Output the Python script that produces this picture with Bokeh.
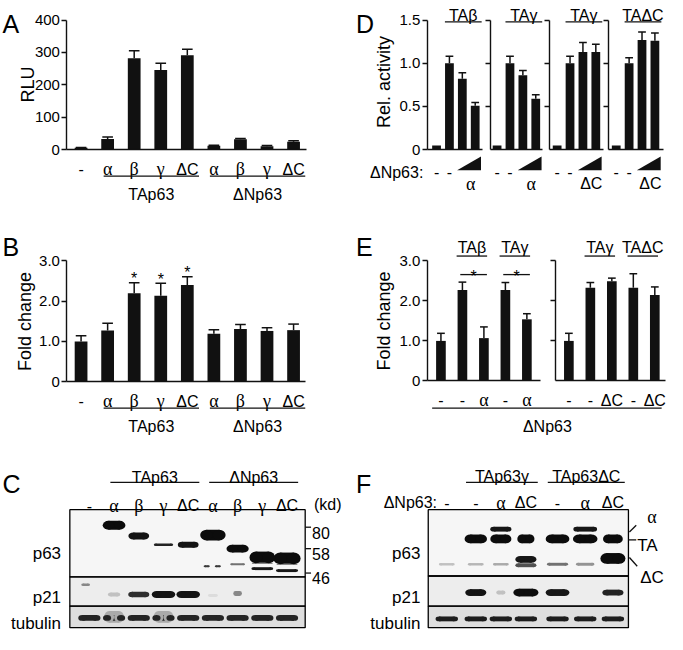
import math
from bokeh.plotting import figure
from bokeh.models import Range1d, LinearAxis, FixedTicker, CustomJSTickFormatter
from bokeh.core.properties import value
from bokeh.embed import file_html
from bokeh.resources import INLINE

# ======================= chart data =======================
# Panel A : reporter activity (RLU)
a_categories = ["-", "α", "β", "γ", "ΔC", "α", "β", "γ", "ΔC"]
a_rlu = [6, 33, 282, 246, 291, 12, 32, 11, 25]
a_rlu_err = [7, 39, 305, 267, 310, 14, 35, 13, 28]
a_ticks = [0, 100, 200, 300, 400]
ab_groups = ["TAp63", "ΔNp63"]
ab_group_members = [[1, 2, 3, 4], [5, 6, 7, 8]]

# Panel B : fold change
b_categories = ["-", "α", "β", "γ", "ΔC", "α", "β", "γ", "ΔC"]
b_fold = [1.0, 1.27, 2.19, 2.13, 2.40, 1.19, 1.31, 1.26, 1.28]
b_fold_err = [1.14, 1.45, 2.45, 2.44, 2.60, 1.29, 1.42, 1.34, 1.43]
b_significant = [2, 3, 4]
b_ticks = [0, 1.0, 2.0, 3.0]

# Panel D : relative activity, four sub-panels
d_titles = ["TAβ", "TAγ", "TAγ", "TAΔC"]
d_dn_isoform = ["α", "α", "ΔC", "ΔC"]
d_act = [[0.05, 1.00, 0.82, 0.51],
         [0.05, 1.00, 0.86, 0.59],
         [0.05, 1.00, 1.13, 1.13],
         [0.05, 1.00, 1.27, 1.26]]
d_err = [[0.05, 1.08, 0.89, 0.545],
         [0.05, 1.08, 0.915, 0.635],
         [0.05, 1.08, 1.24, 1.22],
         [0.05, 1.065, 1.36, 1.35]]
d_ticks = [0, 0.5, 1.0, 1.5]

# Panel E : fold change, two sub-panels
e_categories = [["-", "-", "α", "-", "α"], ["-", "-", "ΔC", "-", "ΔC"]]
e_titles = [["TAβ", "TAγ"], ["TAγ", "TAΔC"]]
e_title_members = [[(1, 2), (3, 4)], [(1, 2), (3, 4)]]
e_fold = [[1.00, 2.27, 1.07, 2.27, 1.54], [1.00, 2.33, 2.49, 2.33, 2.15]]
e_fold_err = [[1.19, 2.47, 1.35, 2.46, 1.68], [1.19, 2.46, 2.57, 2.68, 2.35]]
e_significant_pairs = [(1, 2), (3, 4)]
e_ticks = [0, 1.0, 2.0, 3.0]

# Panel C : western blot (bands: lane, row position, width, height, intensity)
c_lanes = ["-", "α", "β", "γ", "ΔC", "α", "β", "γ", "ΔC"]
c_groups = ["TAp63", "ΔNp63"]
c_group_members = [[1, 2, 3, 4], [5, 6, 7, 8]]
c_markers = ["80", "58", "46"]
c_marker_pos = [540, 562, 587]
c_p63_bands = [(1, 538, 0.92, 9, 1.0), (2, 549, 0.84, 7, 0.97), (3, 558, 0.78, 2.5, 0.9),
               (4, 558, 0.84, 6, 0.97), (5, 548, 1.03, 11, 1.0), (6, 562, 0.9, 8, 1.0),
               (7, 571, 1.04, 12, 1.0), (7, 582.5, 0.88, 3, 0.95), (8, 572, 1.1, 12, 1.0),
               (8, 584.5, 0.9, 3, 0.95), (4.75, 580, 0.25, 2, 0.8), (5.2, 580, 0.25, 2, 0.8),
               (6, 578, 0.6, 2, 0.55), (7, 577, 0.85, 1.5, 0.45), (8, 578, 0.85, 1.5, 0.45)]
c_p21_bands = [(-0.15, 599, 0.35, 2.5, 0.45), (1, 609, 0.5, 4, 0.2), (2, 609, 0.85, 5.5, 0.85),
               (3, 609, 0.95, 7, 0.97), (4, 609, 0.95, 7, 0.97), (5, 610, 0.4, 3, 0.08),
               (6, 608, 0.35, 5, 0.45)]
c_tub_bands = [(1, 632, 0.8, 12, 0.3), (3, 632, 0.8, 12, 0.3)] + \
              [(i, 633, 0.9, 6, 0.9) for i in range(9)]

# Panel F : western blot
f_lanes = ["-", "-", "α", "ΔC", "-", "α", "ΔC"]
f_lane_pos = [0, 1.1, 2.05, 3.0, 4.2, 5.25, 6.3]
f_groups = ["TAp63γ", "TAp63ΔC"]
f_group_members = [[1, 2, 3], [4, 5, 6]]
f_forms = ["α", "TA", "ΔC"]
f_p63_bands = [(0, 578, 0.6, 2.5, 0.2), (1, 578, 0.6, 2.5, 0.25), (2, 578, 0.6, 2.5, 0.3),
               (4, 578, 0.8, 3, 0.55), (5, 578, 0.7, 3, 0.4),
               (1, 552, 0.85, 9, 1.0), (2, 552, 0.8, 9, 1.0), (3, 552, 0.65, 9, 1.0),
               (4, 552, 0.9, 9, 1.0), (5, 552, 0.93, 9, 1.0), (6, 552, 0.75, 9, 1.0),
               (2, 542, 0.8, 5, 0.95), (5, 542, 0.9, 5, 0.95),
               (3, 579, 0.8, 4, 0.7), (3, 573, 0.8, 7, 0.95), (6, 572, 0.95, 11, 1.0)]
f_p21_bands = [(1, 607, 0.8, 7, 0.97), (2, 607, 0.35, 4, 0.2), (3, 607, 0.95, 8, 1.0),
               (4, 607, 0.9, 7, 0.95), (6, 607, 0.8, 6, 0.9)]
f_tub_bands = [(i, 634, 0.85, 5, 0.93) for i in range(7)]

# ======================= figure =======================
REF_W, REF_H = 683, 650
W, H = 667, 634
SANS = "Liberation Sans"
SERIF = "Liberation Serif"
INK = "#111111"
GREEK = {"α", "β", "γ"}
F_TICK = "15px"
S_CAT, S_GREEK, S_GROUP, S_TITLE, S_LETTER = 16, 18, 16, 18, 25

p = figure(width=W, height=H, x_range=Range1d(0, REF_W), y_range=Range1d(REF_H, 0),
           x_axis_type=None, y_axis_type=None, toolbar_location=None,
           output_backend="svg", min_border=0, outline_line_color=None,
           background_fill_color="white", border_fill_color="white")


def add_x(name, origin_px, unit_px):
    p.extra_x_ranges[name] = Range1d(start=(0 - origin_px) / unit_px,
                                     end=(REF_W - origin_px) / unit_px)


def add_y(name, zero_px, top_px, top_val):
    k = top_val / (zero_px - top_px)
    p.extra_y_ranges[name] = Range1d(start=(zero_px - REF_H) * k, end=zero_px * k)


def txt(xs, ys, texts, size, font=SANS, align="center", baseline="alphabetic",
        xr="default", yr="default", angle=0.0, color="black"):
    if len(texts) == 0:
        return
    p.text(x=list(xs), y=list(ys), text=list(texts), text_font=value(font),
           text_font_size=f"{size}px", text_align=align, text_baseline=baseline,
           text_color=color, angle=angle, x_range_name=xr, y_range_name=yr)


def seg(x0, y0, x1, y1, xr="default", yr="default", width=1.3, color=INK):
    p.segment(x0=list(x0), y0=list(y0), x1=list(x1), y1=list(y1), line_color=color,
              line_width=width, x_range_name=xr, y_range_name=yr)


def bars(xr, yr, vals, errs, width, cap):
    xs = list(range(len(vals)))
    p.vbar(x=xs, top=vals, bottom=0, width=width, fill_color=INK, line_color=None,
           x_range_name=xr, y_range_name=yr)
    ex = [x for x, v, e in zip(xs, vals, errs) if e > v]
    ev = [v for v, e in zip(vals, errs) if e > v]
    ee = [e for v, e in zip(vals, errs) if e > v]
    seg(ex, ev, ex, ee, xr, yr, width=1.5)
    seg([x - cap for x in ex], ee, [x + cap for x in ex], ee, xr, yr, width=1.5)


def y_axis(yr, x_px, ticks, top, labels=True, one_decimal=False):
    ax = LinearAxis(y_range_name=yr, fixed_location=x_px, bounds=(0, top),
                    ticker=FixedTicker(ticks=ticks))
    ax.axis_line_width = 1.4
    ax.axis_line_color = INK
    ax.major_tick_line_width = 1.4
    ax.major_tick_line_color = INK
    ax.major_tick_in = 0
    ax.major_tick_out = 5
    ax.minor_tick_line_color = None
    ax.major_label_text_font = SANS
    ax.major_label_text_font_size = F_TICK
    ax.major_label_text_color = "black" if labels else None
    ax.major_label_standoff = 2
    if one_decimal:
        ax.formatter = CustomJSTickFormatter(code="return tick == 0 ? '0' : tick.toFixed(1)")
    p.add_layout(ax, "left")


def x_axis(yr, x0_px, x1_px):
    ax = LinearAxis(y_range_name=yr, fixed_location=0, bounds=(x0_px, x1_px),
                    ticker=FixedTicker(ticks=[]))
    ax.axis_line_width = 1.4
    ax.axis_line_color = INK
    ax.major_tick_line_color = None
    ax.minor_tick_line_color = None
    ax.major_label_text_color = None
    p.add_layout(ax, "below")


def cat_labels(xr, xs, labels, base, size=S_CAT, gsize=S_GREEK):
    g = [(x, l) for x, l in zip(xs, labels) if l in GREEK]
    o = [(x, l) for x, l in zip(xs, labels) if l not in GREEK]
    txt([a for a, _ in g], [base] * len(g), [b for _, b in g], gsize, font=SERIF, xr=xr)
    txt([a for a, _ in o], [base] * len(o), [b for _, b in o], size, font=SANS, xr=xr)


def gray(d):
    lv = int(round(238 - 226 * d))
    return "#%02x%02x%02x" % (lv, lv, lv)


def draw_bands(xr, bands, unit_px, pos=None):
    """Each band is drawn as a rounded (stadium-shaped) blot."""
    xs = [(pos[b[0]] if pos is not None else b[0]) for b in bands]
    ys = [b[1] for b in bands]
    ws = [b[2] for b in bands]
    hs = [b[3] for b in bands]
    cols = [gray(b[4]) for b in bands]
    caps = [min(w * 0.5, h * 1.4 / unit_px) for w, h in zip(ws, hs)]
    body = [w - c for w, c in zip(ws, caps)]
    p.rect(x=xs, y=ys, width=body, height=hs, fill_color=cols, line_color=None,
           x_range_name=xr)
    ends_x = [x - b / 2 for x, b in zip(xs, body)] + [x + b / 2 for x, b in zip(xs, body)]
    p.ellipse(x=ends_x, y=ys + ys, width=caps + caps, height=hs + hs,
              fill_color=cols + cols, line_color=None, x_range_name=xr)


def blot_boxes(left, right, rows, fills):
    for (t, b), f in zip(rows, fills):
        p.quad(left=left, right=right, top=t, bottom=b, fill_color=f, line_color=None)


def blot_outlines(left, right, rows):
    for t, b in rows:
        p.quad(left=left, right=right, top=t, bottom=b, fill_color=None,
               line_color="black", line_width=1.3)


# ---------------- ranges ----------------
add_x("ABx", 82.5, 27.2)
add_y("Ay", 153, 20, 400)
add_y("By", 391, 266.7, 3.0)
add_y("Dy", 153, 20, 1.5)
add_y("Ey", 390, 267, 3.0)
d_origin = [446.5, 508.5, 570, 630.5]
d_axis_px = [437, 501.5, 562.5, 623]
d_axis_end = [494, 555, 617, 679]
for k in range(4):
    add_x(f"D{k}x", d_origin[k], 13.2)
e_origin = [451, 582]
e_axis_px = [437, 568.5]
e_axis_end = [553, 681]
for k in range(2):
    add_x(f"E{k}x", e_origin[k], 22)
C_UNIT, F_UNIT = 25.3, 27
add_x("Cx", 91, C_UNIT)
add_x("Fx", 457, F_UNIT)

# ---------------- panel letters ----------------
txt([2, 2, 2, 364, 364, 364], [24, 253, 496, 24, 253, 496],
    ["A", "B", "C", "D", "E", "F"], S_LETTER, align="left")

# ---------------- panel A ----------------
bars("ABx", "Ay", a_rlu, a_rlu_err, 0.48, 0.2)
y_axis("Ay", 68, a_ticks, 400)
x_axis("Ay", 68, 313)
txt([28], [86], ["RLU"], S_TITLE, angle=math.pi / 2)
cat_labels("ABx", list(range(9)), a_categories, 173)
for name, mem in zip(ab_groups, ab_group_members):
    x0, x1 = mem[0] - 0.15, mem[-1] + 0.44
    seg([x0], [180], [x1], [180], xr="ABx")
    txt([(x0 + x1) / 2], [199], [name], S_GROUP, xr="ABx")

# ---------------- panel B ----------------
bars("ABx", "By", b_fold, b_fold_err, 0.48, 0.2)
y_axis("By", 68, b_ticks, 3.0, one_decimal=True)
x_axis("By", 68, 312)
txt([25], [329], ["Fold change"], S_TITLE, angle=math.pi / 2)
# significance stars sit just above each error bar
txt(b_significant, [b_fold_err[i] + 0.1 for i in b_significant], ["*"] * len(b_significant),
    16, xr="ABx", yr="By")
cat_labels("ABx", list(range(9)), b_categories, 411)
for name, mem in zip(ab_groups, ab_group_members):
    x0, x1 = mem[0] - 0.15, mem[-1] + 0.44
    seg([x0], [418], [x1], [418], xr="ABx")
    txt([(x0 + x1) / 2], [437], [name], S_GROUP, xr="ABx")

# ---------------- panel D ----------------
txt([393], [83.5], ["Rel. activity"], S_TITLE, angle=math.pi / 2)
txt([433], [176], ["ΔNp63:"], S_CAT, align="right")
for k in range(4):
    xr = f"D{k}x"
    bars(xr, "Dy", d_act[k], d_err[k], 0.68, 0.3)
    if k == 0:
        y_axis("Dy", d_axis_px[k], d_ticks, 1.5, one_decimal=True)
    else:
        y_axis("Dy", d_axis_px[k], d_ticks[1:], 1.5, labels=False)
    x_axis("Dy", d_axis_px[k], d_axis_end[k])
    seg([0.65], [22], [3.5], [22], xr=xr)
    txt([2.07], [15.5], [d_titles[k]], S_CAT, xr=xr)
    txt([0, 1], [176, 176], ["-", "-"], S_CAT, xr=xr)
    p.patch(x=[1.6, 3.45, 3.45], y=[174, 174, 160], fill_color=INK, line_color=None,
            x_range_name=xr)
    cat_labels(xr, [2.65], [d_dn_isoform[k]], 188)

# ---------------- panel E ----------------
txt([393], [328.5], ["Fold change"], S_TITLE, angle=math.pi / 2)
for k in range(2):
    xr = f"E{k}x"
    bars(xr, "Ey", e_fold[k], e_fold_err[k], 0.45, 0.18)
    if k == 0:
        y_axis("Ey", e_axis_px[k], e_ticks, 3.0, one_decimal=True)
    else:
        y_axis("Ey", e_axis_px[k], e_ticks[1:], 3.0, labels=False)
    x_axis("Ey", e_axis_px[k], e_axis_end[k])
    for title, (a, b) in zip(e_titles[k], e_title_members[k]):
        x0, x1 = a - 0.27, b + 0.15
        seg([x0], [262], [x1], [262], xr=xr)
        txt([(x0 + x1) / 2], [253], [title], S_CAT, xr=xr)
    cat_labels(xr, list(range(5)), e_categories[k], 410)
for a, b in e_significant_pairs:
    x0, x1 = a - 0.1, b + 0.14
    seg([x0], [281], [x1], [281], xr="E0x")
    txt([(x0 + x1) / 2], [283], ["*"], 16, xr="E0x")
seg([442], [418], [677], [418])
txt([560], [437], ["ΔNp63"], S_GROUP)

# ---------------- panel C (blot) ----------------
c_rows = [(522, 591), (591, 621), (621, 643)]
blot_boxes(71, 312, c_rows, ["#f6f6f6", "#ededed", "#dedede"])
draw_bands("Cx", c_p63_bands, C_UNIT)
draw_bands("Cx", c_p21_bands, C_UNIT)
draw_bands("Cx", c_tub_bands, C_UNIT)
blot_outlines(71, 312, c_rows)
for name, mem in zip(c_groups, c_group_members):
    x0, x1 = mem[0] - 0.15, mem[-1] + 0.45
    seg([x0], [494], [x1], [494], xr="Cx")
    txt([(x0 + x1) / 2], [489], [name], S_GROUP, xr="Cx")
cat_labels("Cx", list(range(9)), c_lanes, 518)
txt([321], [517], ["(kd)"], S_CAT, align="left")
seg([312] * 3, c_marker_pos, [318] * 3, c_marker_pos, width=1.3)
txt([319] * 3, [y + 5.5 for y in c_marker_pos], c_markers, S_CAT, align="left")
txt([62, 62, 62], [567, 612, 639], ["p63", "p21", "tubulin"], 17, align="right")

# ---------------- panel F (blot) ----------------
f_rows = [(522, 590), (590, 621), (621, 643)]
blot_boxes(438, 643, f_rows, ["#f6f6f6", "#ededed", "#dedede"])
draw_bands("Fx", f_p63_bands, F_UNIT, f_lane_pos)
draw_bands("Fx", f_p21_bands, F_UNIT, f_lane_pos)
draw_bands("Fx", f_tub_bands, F_UNIT, f_lane_pos)
blot_outlines(438, 643, f_rows)
for name, mem in zip(f_groups, f_group_members):
    x0, x1 = f_lane_pos[mem[0]] - 0.37, f_lane_pos[mem[-1]] + 0.45
    seg([x0], [494], [x1], [494], xr="Fx")
    txt([(x0 + x1) / 2], [488], [name], S_GROUP, xr="Fx")
txt([447], [515], ["ΔNp63:"], S_CAT, align="right")
cat_labels("Fx", f_lane_pos, f_lanes, 515)
txt([430, 430, 430], [567, 612, 639], ["p63", "p21", "tubulin"], 17, align="right")
# isoform markers at right edge
seg([644, 643], [545, 553], [651, 651], [538, 553], width=1.3)
seg([644], [571], [652], [580], width=1.3)
txt([667], [530], [f_forms[0]], 18, font=SERIF)
txt([652, 655], [559, 592], f_forms[1:], 17, align="left")

open("out.html", "w").write(file_html(p, INLINE))
